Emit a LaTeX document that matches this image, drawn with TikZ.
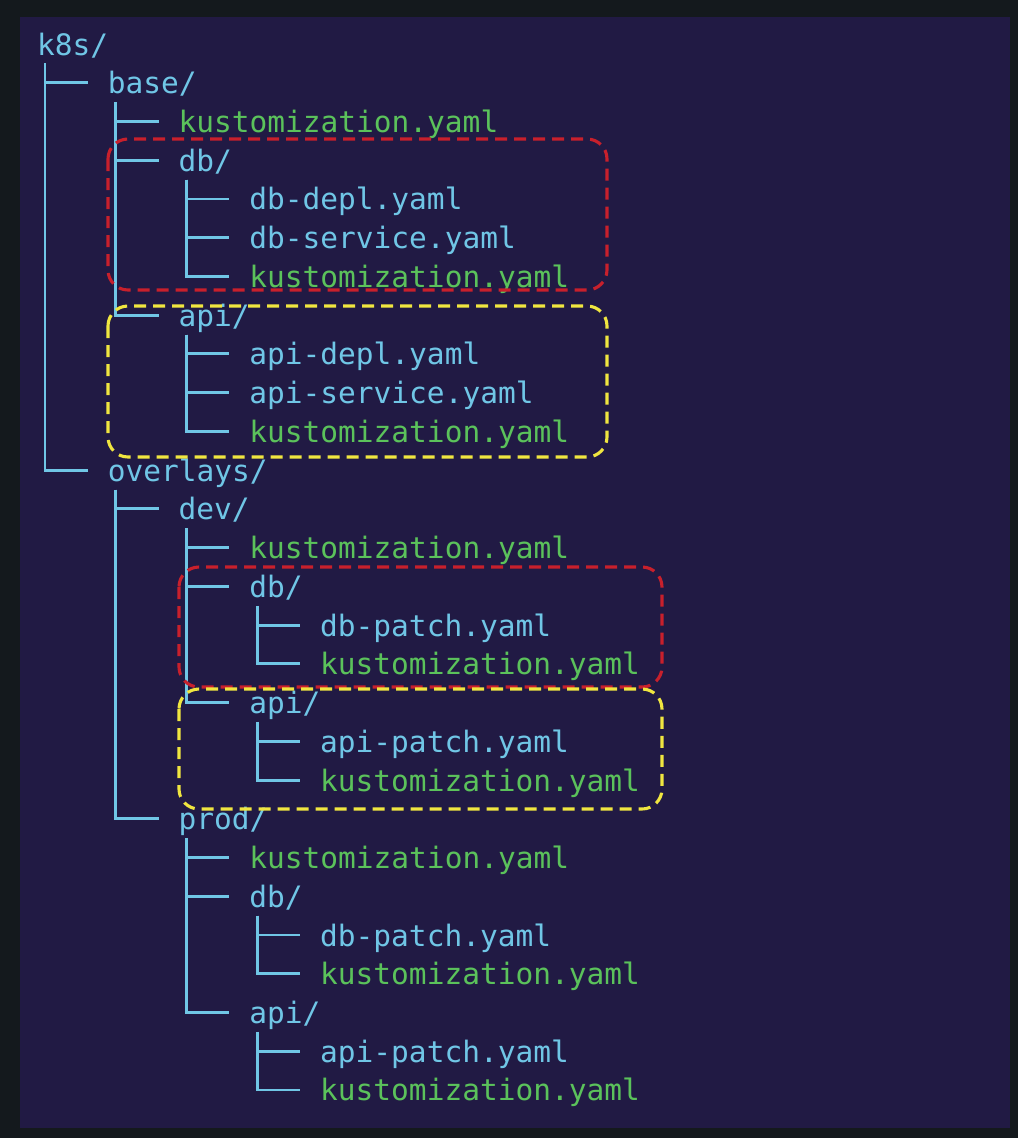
\documentclass[tikz,border=0pt]{standalone}
\usepackage{fontspec}
\setmonofont{DejaVu Sans Mono}
\usetikzlibrary{calc}
\definecolor{outerbg}{HTML}{14191D}
\definecolor{innerbg}{HTML}{211A44}
\definecolor{dircol}{HTML}{70C6E6}
\definecolor{kcol}{HTML}{5BC25B}
\definecolor{redbox}{HTML}{C8202C}
\definecolor{yelbox}{HTML}{F0E640}
\newcommand{\tnode}[5]{\node[#4] (#1) at ({37+70.8*#3},{55+38.74*#2}) {#5};}
\newcommand{\conn}[2]{\draw[tree] ($(#1.base west)+(8,8.4)$) |- ($(#2.base west)+(-20,-11)$);}
\begin{document}
\begin{tikzpicture}[x=1pt,y=-1pt,
  entry/.style={anchor=base west,inner sep=0pt,outer sep=0pt,font=\ttfamily\fontsize{29.5}{35}\selectfont},
  dirent/.style={entry,text=dircol},
  kent/.style={entry,text=kcol},
  tree/.style={draw=dircol,line width=2.9pt},
  redgroup/.style={draw=redbox,line width=3.1pt,dash pattern=on 12pt off 7pt,rounded corners=20pt},
  yelgroup/.style={draw=yelbox,line width=3.1pt,dash pattern=on 12pt off 7pt,rounded corners=20pt}]
\useasboundingbox (0,0) rectangle (1018,1138);
\fill[outerbg] (0,0) rectangle (1018,1138);
\fill[innerbg] (20,17) rectangle (1010,1128);
% entries
\tnode{k8s}{0}{0}{dirent}{k8s/}
\tnode{base}{1}{1}{dirent}{base/}
\tnode{bk}{2}{2}{kent}{kustomization.yaml}
\tnode{bdb}{3}{2}{dirent}{db/}
\tnode{bdbdepl}{4}{3}{dirent}{db-depl.yaml}
\tnode{bdbsvc}{5}{3}{dirent}{db-service.yaml}
\tnode{bdbk}{6}{3}{kent}{kustomization.yaml}
\tnode{bapi}{7}{2}{dirent}{api/}
\tnode{bapidepl}{8}{3}{dirent}{api-depl.yaml}
\tnode{bapisvc}{9}{3}{dirent}{api-service.yaml}
\tnode{bapik}{10}{3}{kent}{kustomization.yaml}
\tnode{ov}{11}{1}{dirent}{overlays/}
\tnode{dev}{12}{2}{dirent}{dev/}
\tnode{devk}{13}{3}{kent}{kustomization.yaml}
\tnode{devdb}{14}{3}{dirent}{db/}
\tnode{devdbp}{15}{4}{dirent}{db-patch.yaml}
\tnode{devdbk}{16}{4}{kent}{kustomization.yaml}
\tnode{devapi}{17}{3}{dirent}{api/}
\tnode{devapip}{18}{4}{dirent}{api-patch.yaml}
\tnode{devapik}{19}{4}{kent}{kustomization.yaml}
\tnode{prod}{20}{2}{dirent}{prod/}
\tnode{prodk}{21}{3}{kent}{kustomization.yaml}
\tnode{proddb}{22}{3}{dirent}{db/}
\tnode{proddbp}{23}{4}{dirent}{db-patch.yaml}
\tnode{proddbk}{24}{4}{kent}{kustomization.yaml}
\tnode{prodapi}{25}{3}{dirent}{api/}
\tnode{prodapip}{26}{4}{dirent}{api-patch.yaml}
\tnode{prodapik}{27}{4}{kent}{kustomization.yaml}
% connectors
\conn{k8s}{base}\conn{k8s}{ov}
\conn{base}{bk}\conn{base}{bdb}\conn{base}{bapi}
\conn{bdb}{bdbdepl}\conn{bdb}{bdbsvc}\conn{bdb}{bdbk}
\conn{bapi}{bapidepl}\conn{bapi}{bapisvc}\conn{bapi}{bapik}
\conn{ov}{dev}\conn{ov}{prod}
\conn{dev}{devk}\conn{dev}{devdb}\conn{dev}{devapi}
\conn{devdb}{devdbp}\conn{devdb}{devdbk}
\conn{devapi}{devapip}\conn{devapi}{devapik}
\conn{prod}{prodk}\conn{prod}{proddb}\conn{prod}{prodapi}
\conn{proddb}{proddbp}\conn{proddb}{proddbk}
\conn{prodapi}{prodapip}\conn{prodapi}{prodapik}
% highlight groups
\draw[redgroup] (108,139) rectangle (607,290);
\draw[yelgroup] (108,306) rectangle (607,457);
\draw[redgroup] (179,567) rectangle (662,687);
\draw[yelgroup] (179,689) rectangle (662,809);
\end{tikzpicture}
\end{document}
